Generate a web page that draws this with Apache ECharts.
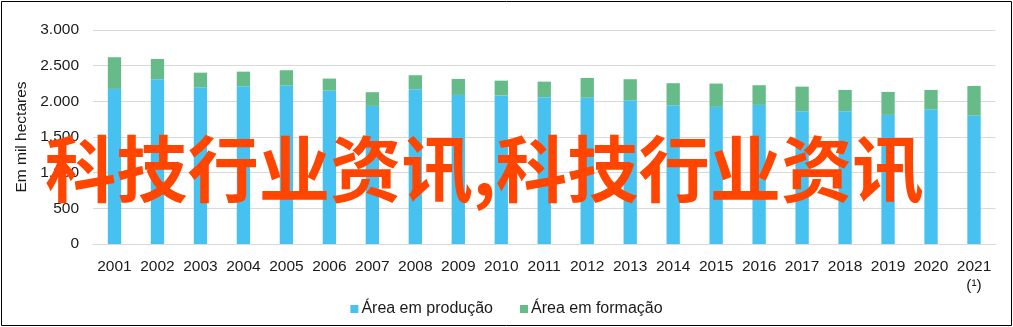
<!DOCTYPE html>
<html>
<head>
<meta charset="utf-8">
<script src="https://cdn.jsdelivr.net/npm/echarts@6/dist/echarts.min.js"></script>
<style>
html,body{margin:0;padding:0;background:#fff;}
#c{width:1013px;height:327px;}
</style>
</head>
<body>
<div id="c"></div>
<script>
var categories = ['2001','2002','2003','2004','2005','2006','2007','2008','2009','2010','2011','2012','2013','2014','2015','2016','2017','2018','2019','2020','2021\n(¹)'];
var producao = [2174,2310,2198,2212,2221,2151,1936,2170,2090,2080,2058,2052,2016,1946,1922,1950,1862,1862,1810,1890,1800];
var formacao = [444,284,204,204,215,168,192,196,224,210,218,276,294,308,327,276,344,298,322,270,416];
var yTicks = [0,500,1000,1500,2000,2500,3000];
var seriesNames = ['Área em produção','Área em formação'];
var yAxisName = 'Em mil hectares';
var overlayText = '科技行业资讯,科技行业资讯';

var chart = echarts.init(document.getElementById('c'), null, {renderer:'canvas'});
var font = '"Liberation Sans", Arial, sans-serif';
function fmt(v){ return String(v).replace(/\B(?=(\d{3})+(?!\d))/g,'.'); }
chart.setOption({
  animation:false,
  backgroundColor:'#fff',
  grid:{left:93, right:17.5, top:30, bottom:83},
  legend:{
    data:seriesNames, left:'center', top:296,
    icon:'rect', itemWidth:8, itemHeight:8, itemGap:27,
    textStyle:{fontFamily:font, fontSize:16, color:'#1a1a1a', padding:[0,0,0,-2]}
  },
  xAxis:{
    type:'category', data:categories,
    axisLine:{show:true, lineStyle:{color:'#d9d9d9', width:1}},
    axisTick:{show:false},
    axisLabel:{fontFamily:font, fontSize:15.5, color:'#1a1a1a', margin:13, lineHeight:19, interval:0}
  },
  yAxis:{
    type:'value', min:yTicks[0], max:yTicks[yTicks.length-1], interval:500,
    name:yAxisName, nameLocation:'middle', nameGap:58,
    nameTextStyle:{fontFamily:font, fontSize:15.5, color:'#1a1a1a'},
    axisLine:{show:false}, axisTick:{show:false},
    axisLabel:{fontFamily:font, fontSize:15.5, color:'#1a1a1a', margin:14, formatter:fmt},
    splitLine:{lineStyle:{color:'#d9d9d9', width:1}}
  },
  series:[
    {name:seriesNames[0], type:'bar', stack:'a', data:producao, barWidth:'31%',
     itemStyle:{color:'#47c1ef'}},
    {name:seriesNames[1], type:'bar', stack:'a', data:formacao, barWidth:'31%',
     itemStyle:{color:'#66bb88'}}
  ],
  graphic:[
    {type:'rect', shape:{x:1.5, y:1.5, width:1010, height:324}, style:{fill:null, stroke:'#000', lineWidth:1}, z:200},
    {type:'text', x:45, y:133, scaleX:0.99, z:100,
     style:{text:overlayText, fill:'#ff4500', font:'bold 72px "Noto Sans CJK SC"'}}
  ]
});
</script>
</body>
</html>
